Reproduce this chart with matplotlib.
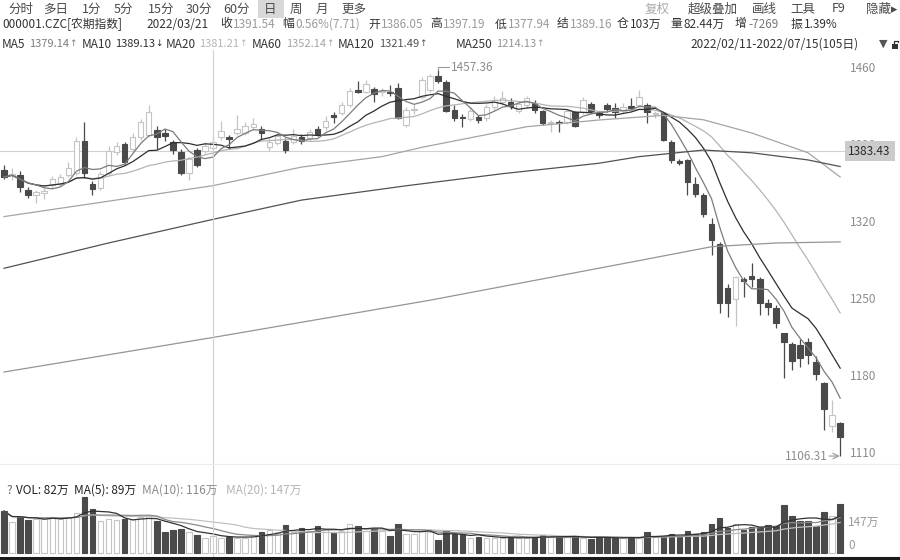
import matplotlib
matplotlib.use("Agg")
import matplotlib.pyplot as plt
from matplotlib.patches import Rectangle
import numpy as np
import pandas as pd

plt.rcParams['font.family'] = ['Noto Sans CJK SC', 'DejaVu Sans']

# ---------------- data ----------------
opens = [1366, 1362, 1362, 1348, 1344, 1345, 1353, 1354, 1362, 1364,
         1393, 1354, 1350, 1364, 1383, 1390, 1385, 1396, 1398, 1403,
         1400, 1392, 1383, 1364, 1384.5, 1384, 1386.05, 1396, 1396.6, 1400,
         1400, 1405, 1403.4, 1387, 1391, 1392.7, 1392, 1396, 1395, 1403.4,
         1405, 1416, 1418, 1425.5, 1439, 1437.5, 1440, 1437, 1437, 1440.6,
         1407.3, 1421, 1433, 1439, 1452, 1446.6, 1421, 1414.5, 1413, 1414.3,
         1413.4, 1424, 1428, 1428.5, 1420, 1425.5, 1427, 1420.3, 1409.4, 1410,
         1410, 1418.8, 1419.4, 1426.4, 1418, 1425.5, 1422.4, 1420, 1424.5, 1425.5,
         1425.5, 1417, 1418.5, 1392, 1374.8, 1375.5, 1353.6, 1343.6, 1317.3, 1299,
         1258.8, 1249, 1267, 1270, 1267, 1245.8, 1240.6, 1218.5, 1207.9, 1207.3,
         1210.3, 1192, 1173, 1133.6, 1136.6]
highs = [1371, 1368, 1365, 1351, 1348, 1350, 1361, 1363, 1374, 1396,
         1410, 1356, 1365, 1388, 1392, 1392, 1400, 1413, 1425, 1406,
         1404, 1394, 1385, 1378, 1386, 1392, 1397.19, 1411, 1398, 1416,
         1410, 1414, 1406, 1395, 1400, 1395, 1404, 1399, 1404, 1406,
         1415, 1419, 1428, 1441, 1447.5, 1448, 1442, 1441, 1444, 1445,
         1424, 1426, 1451, 1454, 1457.36, 1448, 1425, 1417, 1424, 1416,
         1426, 1434, 1438, 1432, 1429, 1434, 1430, 1421, 1412, 1412,
         1422, 1420, 1433, 1428, 1420, 1427, 1427, 1427, 1432, 1439,
         1427, 1420, 1419.4, 1393.6, 1376, 1376.5, 1359.7, 1345, 1322.5, 1301,
         1262.7, 1270, 1269.4, 1281.5, 1269, 1249, 1244, 1218.5, 1210.3, 1212.5,
         1214, 1197, 1174, 1157, 1137]
lows = [1358, 1357, 1346, 1341, 1336, 1340, 1350, 1352, 1360, 1362,
        1359, 1344, 1348, 1362, 1380, 1372, 1383, 1394, 1396, 1385,
        1393, 1381, 1362, 1357, 1369, 1382, 1377.94, 1394, 1385, 1398,
        1398, 1403, 1394, 1384, 1389, 1381.5, 1390, 1390, 1393, 1397,
        1403, 1409, 1416, 1424, 1436, 1436, 1428, 1434, 1434, 1413,
        1405, 1417, 1431, 1437, 1445, 1419, 1411, 1405.7, 1411, 1409,
        1411, 1421, 1425, 1422, 1418, 1423, 1418, 1407, 1401, 1401,
        1408, 1405, 1417, 1418, 1414, 1419, 1414, 1418, 1422, 1424,
        1408.8, 1414, 1393, 1373, 1371, 1343.6, 1342, 1323.6, 1289, 1236,
        1233, 1224.5, 1251, 1260.3, 1234.5, 1234.5, 1222.5, 1177, 1184.5, 1187.5,
        1190, 1175, 1130, 1128.5, 1106.31]
closes = [1360, 1363, 1351, 1344, 1346, 1347, 1358, 1360, 1368, 1393,
          1364, 1349, 1363, 1384, 1388, 1374, 1396, 1410, 1419, 1396,
          1397, 1384.5, 1364, 1376, 1371, 1388, 1391.54, 1402, 1394.5, 1404,
          1406.4, 1408, 1399.7, 1392, 1397, 1384.5, 1397, 1392.7, 1401, 1399,
          1411, 1414.3, 1425.5, 1438.5, 1437.5, 1444.5, 1435, 1438, 1436, 1413.4,
          1421, 1422, 1448, 1452, 1447.5, 1420.3, 1413.4, 1413.5, 1420, 1411.8,
          1424, 1430, 1432, 1424.5, 1426, 1431.5, 1421, 1408.8, 1410, 1409.4,
          1420, 1406.6, 1430, 1420.3, 1416.5, 1421.5, 1419.4, 1424, 1423, 1433,
          1418.7, 1418.5, 1393.6, 1375.5, 1372.5, 1355.7, 1344.3, 1326, 1302.7, 1245.2,
          1245.2, 1269.4, 1265, 1267, 1245, 1241.6, 1227, 1210.3, 1192.7, 1195.7,
          1198.2, 1181, 1148.8, 1143.6, 1123.4]
volumes = [199, 147, 171, 155, 163, 165, 170, 160, 170, 190,
           265, 210, 150, 160, 155, 160, 160, 170, 175, 150,
           101, 111, 115, 98, 85, 73, 82, 73, 77, 73,
           73, 85, 98, 108, 98, 134, 98, 119, 106, 127,
           114, 98, 106, 139, 127, 106, 114, 106, 82, 139,
           90, 90, 106, 98, 60, 103, 90, 90, 73, 77,
           73, 73, 73, 70, 73, 73, 77, 85, 75, 77,
           75, 82, 73, 65, 77, 73, 73, 73, 70, 73,
           101, 75, 82, 90, 78, 106, 90, 98, 136, 167,
           120, 139, 111, 125, 118, 131, 126, 229, 175, 150,
           150, 127, 196, 175, 232]

# long moving averages at sample days
ma60_idx = [0, 13, 26, 37, 47, 52, 65, 74, 82, 87, 93, 100, 104]
ma60_val = [1324, 1338, 1352.14, 1369, 1378.5, 1387, 1405.7, 1411.8, 1416, 1412, 1400, 1382, 1360]
ma120_idx = [0, 13, 26, 37, 50, 62, 74, 79, 87, 93, 100, 104]
ma120_val = [1277, 1300, 1321.49, 1339, 1352, 1363, 1372.5, 1378.5, 1384.5, 1382, 1375.5, 1369.5]
ma250_idx = [0, 26, 53, 79, 88, 96, 104]
ma250_val = [1182.7, 1214.13, 1248, 1284, 1296.6, 1300, 1301]

price_ticks = [1110, 1180, 1250, 1320, 1390, 1460]
cross_day = 26
cross_price = 1383.43
hi_day, hi_label = 54, "1457.36"
lo_day, lo_label = 104, "1106.31"
vol_tick = 147

# ---------------- styling ----------------
DARK = '#4a4a4a'
LIGHT = '#c4c4c4'
C_MA5, C_MA10, C_MA20 = '#7c7c7c', '#2e2e2e', '#b4b4b4'
C_MA60, C_MA120, C_MA250 = '#a4a4a4', '#525252', '#959595'
W, H = 900, 560

fig = plt.figure(figsize=(9, 5.6), dpi=100)
fig.patch.set_facecolor('white')


def fy(y):
    return 1 - y / H


axp = fig.add_axes([0, fy(462), 845 / W, 407 / H])
axv = fig.add_axes([0, fy(555), 845 / W, 77 / H])
ov = fig.add_axes([0, 0, 1, 1], zorder=10)
ov.set_xlim(0, W)
ov.set_ylim(H, 0)
ov.axis('off')
ov.patch.set_alpha(0)

n = len(closes)
idx = np.arange(n)
o = np.array(opens, float)
c = np.array(closes, float)
h = np.array(highs, float)
l = np.array(lows, float)
up = c >= o
bw = 0.68

for ax in (axp, axv):
    ax.set_xlim(-0.5, 104.6)
    for s in ax.spines.values():
        s.set_visible(False)
    ax.set_xticks([])
    ax.set_facecolor('none')

axp.set_ylim(1100.9, 1470.9)
axv.set_ylim(-9.5, 356)

# candles
for i in range(n):
    col = LIGHT if up[i] else DARK
    axp.vlines(i, l[i], h[i], color=col, lw=0.9, zorder=2)
    bot = min(o[i], c[i])
    ht = max(abs(c[i] - o[i]), 0.9)
    axp.add_patch(Rectangle((i - bw / 2, bot), bw, ht,
                            facecolor='white' if up[i] else DARK,
                            edgecolor=col, lw=0.8, zorder=3))

# moving averages
cs = pd.Series(c)
axp.plot(idx, cs.rolling(20, min_periods=1).mean(), color=C_MA20, lw=0.9, zorder=4)
axp.plot(idx, cs.rolling(10, min_periods=1).mean(), color=C_MA10, lw=0.9, zorder=4)
axp.plot(idx, cs.rolling(5, min_periods=1).mean(), color=C_MA5, lw=0.9, zorder=4)
axp.plot(ma60_idx, ma60_val, color=C_MA60, lw=0.9, zorder=4)
axp.plot(ma120_idx, ma120_val, color=C_MA120, lw=0.9, zorder=4)
axp.plot(ma250_idx, ma250_val, color=C_MA250, lw=0.9, zorder=4)

axp.axhline(cross_price, color='#d0d0d0', lw=0.8, zorder=1)

axp.yaxis.tick_right()
axp.set_yticks(price_ticks)
axp.set_yticklabels([str(t) for t in price_ticks])
axp.tick_params(axis='y', length=0, pad=3.5, labelsize=8.5, labelcolor='#8c8c8c')

# volume
vcol_face = ['white' if u else DARK for u in up]
vcol_edge = [LIGHT if u else DARK for u in up]
axv.bar(idx, volumes, width=bw, color=vcol_face, edgecolor=vcol_edge, lw=0.8, zorder=2)
vs = pd.Series(volumes, dtype=float)
axv.plot(idx, vs.rolling(20, min_periods=1).mean(), color='#c0c0c0', lw=0.9, zorder=3)
axv.plot(idx, vs.rolling(10, min_periods=1).mean(), color='#8a8a8a', lw=0.9, zorder=3)
axv.plot(idx, vs.rolling(5, min_periods=1).mean(), color='#333333', lw=0.9, zorder=3)
axv.set_yticks([])

fig.canvas.draw()
renderer = fig.canvas.get_renderer()


def to_px(ax, x, y):
    X, Y = ax.transData.transform((x, y))
    return X, H - Y


# crosshair
cx, cy = to_px(axp, cross_day, cross_price)
ov.plot([cx, cx], [50, 556], color='#d0d0d0', lw=0.8, zorder=1)
ov.add_patch(Rectangle((845, cy - 10.5), 50, 20.5, facecolor='#cbcbcb', edgecolor='none', zorder=2))
ov.text(848, cy, f"{cross_price:.2f}", fontsize=8.5, color='#2a2a2a', va='center', ha='left', zorder=3)

# high / low annotations
hx, hy = to_px(axp, hi_day, highs[hi_day])
ov.plot([hx, hx, hx + 11], [hy, hy - 2.5, hy - 2.5], color='#999999', lw=0.8)
ov.text(hx + 13, hy - 2.5, hi_label, fontsize=8.5, color='#8c8c8c', va='center', ha='left')
lx, ly = to_px(axp, lo_day, lows[lo_day])
ov.annotate('', xy=(lx - 0.5, ly), xytext=(lx - 11, ly),
            arrowprops=dict(arrowstyle='->', color='#999999', lw=0.8, shrinkA=0, shrinkB=0))
ov.text(lx - 12, ly, lo_label, fontsize=8.5, color='#8c8c8c', va='center', ha='right')

# volume axis labels
_, vy = to_px(axv, 0, vol_tick)
ov.text(848, vy, f"{vol_tick}万", fontsize=8.5, color='#9a9a9a', va='center', ha='left')
_, v0 = to_px(axv, 0, 0)
ov.text(848, v0 - 7, "0", fontsize=8.5, color='#9a9a9a', va='center', ha='left')

# separators
ov.plot([0, W], [464, 464], color='#ececec', lw=0.8)
ov.plot([0, W], [557.5, 557.5], color='#1a1a1a', lw=2.2)

# ---------------- header rows ----------------
ov.add_patch(Rectangle((258, 0), 26, 18, facecolor='#d8d8d8', edgecolor='none'))
row1 = [("分时", 8), ("多日", 43), ("1分", 82), ("5分", 114), ("15分", 148), ("30分", 186),
        ("60分", 223), ("日", 264), ("周", 290), ("月", 316), ("更多", 341)]
for t, x in row1:
    ov.text(x, 9, t, fontsize=9, color='#4a4a4a', va='center', ha='left')
row1r = [("复权", 645, '#aaaaaa'), ("超级叠加", 688, '#4a4a4a'), ("画线", 752, '#4a4a4a'),
         ("工具", 790, '#4a4a4a'), ("F9", 832, '#4a4a4a'), ("隐藏▸", 866, '#4a4a4a')]
for t, x, col in row1r:
    ov.text(x, 9, t, fontsize=9, color=col, va='center', ha='left')

row2 = [("000001.CZC[农期指数]", 2, '#333333'), ("2022/03/21", 146, '#333333'),
        ("收", 220, '#333333'), ("1391.54", 233, '#9a9a9a'),
        ("幅", 282, '#333333'), ("0.56%(7.71)", 295, '#9a9a9a'),
        ("开", 368, '#333333'), ("1386.05", 381, '#9a9a9a'),
        ("高", 430, '#333333'), ("1397.19", 443, '#9a9a9a'),
        ("低", 495, '#333333'), ("1377.94", 508, '#9a9a9a'),
        ("结", 557, '#333333'), ("1389.16", 570, '#9a9a9a'),
        ("仓", 617, '#333333'), ("103万", 630, '#333333'),
        ("量", 670, '#333333'), ("82.44万", 683, '#333333'),
        ("增", 735, '#333333'), ("-7269", 748, '#777777'),
        ("振", 791, '#333333'), ("1.39%", 804, '#333333')]
for t, x, col in row2:
    ov.text(x, 24, t, fontsize=8.5, color=col, va='center', ha='left')

row3 = [("MA5", 2, "1379.14", "↑", 29, C_MA5),
        ("MA10", 82, "1389.13", "↓", 115, C_MA10),
        ("MA20", 166, "1381.21", "↑", 199, C_MA20),
        ("MA60", 252, "1352.14", "↑", 286, C_MA60),
        ("MA120", 338, "1321.49", "↑", 379, C_MA120),
        ("MA250", 456, "1214.13", "↑", 496, C_MA250)]
for lab, xl, val, arr, xv, col in row3:
    ov.text(xl, 44, lab, fontsize=8.5, color='#333333', va='center', ha='left')
    t = ov.text(xv, 44, val, fontsize=8, color=col, va='center', ha='left')
    bb = t.get_window_extent(renderer=renderer)
    ov.text(bb.x1 + 0.3, 44, arr, fontsize=6.5, color=col, va='center', ha='left',
            family='DejaVu Sans')
ov.text(690, 44, "2022/02/11-2022/07/15(105日)", fontsize=8.5, color='#333333', va='center', ha='left')
ov.text(879, 44, "▼", fontsize=8, color='#555555', va='center', ha='left', family='DejaVu Sans')
# small lock icon
ov.add_patch(Rectangle((892, 44), 6, 5, facecolor='#333333', edgecolor='none'))
ov.plot([893.5, 893.5, 897.5, 897.5], [44, 40.5, 40.5, 42], color='#333333', lw=0.9)

row4 = [("?", 6, '#666666'), ("VOL: 82万", 16, '#222222'), ("MA(5): 89万", 74, '#222222'),
        ("MA(10): 116万", 142, '#8a8a8a'), ("MA(20): 147万", 226, '#b4b4b4')]
for t, x, col in row4:
    ov.text(x, 490, t, fontsize=8.5, color=col, va='center', ha='left')

fig.savefig("out.png", dpi=100, facecolor='white')
